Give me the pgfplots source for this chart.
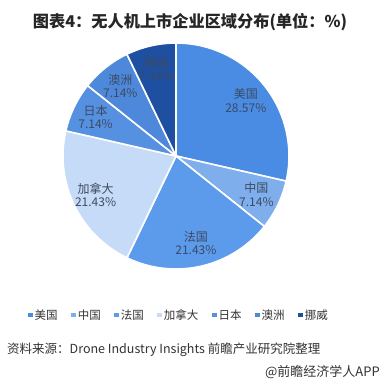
\documentclass[border=0pt]{standalone}
\usepackage{fontspec}
\setmainfont{Noto Sans CJK SC}
\usepackage{pgfplots}
\pgfplotsset{compat=1.18}
\definecolor{cUS}{HTML}{4A8BE3}
\definecolor{cCN}{HTML}{7FAEEC}
\definecolor{cFR}{HTML}{5C9AEB}
\definecolor{cCA}{HTML}{C6DBF7}
\definecolor{cJP}{HTML}{5690E0}
\definecolor{cAU}{HTML}{4D88DA}
\definecolor{cNO}{HTML}{1F4FA0}
\definecolor{labc}{HTML}{3C4A63}
\definecolor{txtc}{HTML}{333333}
\tikzset{slicelabel/.style={align=center, font=\fontsize{12}{13.5}\selectfont, text=labc, inner sep=0pt}}
\newcommand\curang{90}
\newcommand{\pieslice}[3]{%
  \pgfmathsetmacro{\endang}{\curang-3.6*#1}%
  \pgfmathsetmacro{\midang}{(\curang+\endang)/2}%
  \pgfmathsetmacro{\lx}{0.79*cos(\midang)}%
  \pgfmathsetmacro{\ly}{0.79*sin(\midang)}%
  \edef\temp{\noexpand\addplot[fill=#2, draw=white, line width=1.6pt, line join=round, domain=\endang:\curang, samples=80] ({cos(x)},{sin(x)}) -- (0,0) -- cycle;
    \noexpand\addlegendentry{\unexpanded{#3}}
    \noexpand\node[slicelabel] at (axis cs:\lx,\ly) {\unexpanded{#3\\#1\%}};}%
  \temp
  \global\let\curang\endang
}
\begin{document}
\begin{tikzpicture}
\path[use as bounding box, fill=white] (0,0) rectangle (381pt,383pt);
\node[font=\fontsize{16.2}{18}\selectfont\bfseries, text=black!85] at (190pt,361pt) {图表4：无人机上市企业区域分布(单位：\%)};
\begin{axis}[
  at={(176pt,227pt)}, anchor=center,
  scale only axis, width=226pt, height=226pt,
  xmin=-1, xmax=1, ymin=-1, ymax=1,
  hide axis, clip=false,
  legend style={at={(0.513,-0.204)}, anchor=center, draw=none, fill=none,
    font=\fontsize{11.5}{13}\selectfont, text=txtc, legend columns=-1,
    /tikz/every even column/.append style={column sep=11.5pt}},
  legend image code/.code={\fill[#1,draw=none] (0pt,-2.3pt) rectangle (4.6pt,2.3pt);},
]
\pieslice{28.57}{cUS}{美国}
\pieslice{7.14}{cCN}{中国}
\pieslice{21.43}{cFR}{法国}
\pieslice{21.43}{cCA}{加拿大}
\pieslice{7.14}{cJP}{日本}
\pieslice{7.14}{cAU}{澳洲}
\pieslice{7.14}{cNO}{挪威}
\end{axis}
\node[anchor=west, font=\fontsize{12.5}{14}\selectfont, text=txtc, inner sep=0pt] at (7pt,33pt) {资料来源：Drone Industry Insights 前瞻产业研究院整理};
\node[anchor=east, font=\fontsize{13}{14}\selectfont, text=txtc, inner sep=0pt] at (380pt,11pt) {@前瞻经济学人APP};
\end{tikzpicture}
\end{document}
